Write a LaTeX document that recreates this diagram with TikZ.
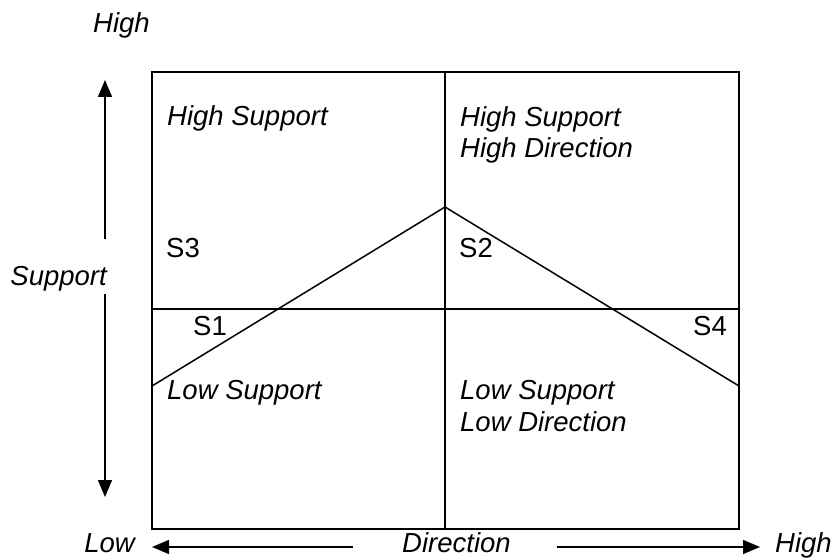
\documentclass[tikz,border=0pt]{standalone}
\usepackage{fontspec}
\setmainfont{Liberation Sans}
\usetikzlibrary{arrows.meta, positioning}

\begin{document}
\begin{tikzpicture}[x=1pt, y=-1pt, >={Triangle[length=17pt, width=14pt]},
    lbl/.style={font=\itshape\fontsize{27.5}{32}\selectfont, inner sep=0pt, align=left},
    tag/.style={font=\fontsize{27.5}{32}\selectfont, inner sep=0pt}]
    \useasboundingbox (0,0) rectangle (833,559);
    % the grid
    \coordinate (nw) at (152,72);
    \coordinate (se) at (739,529);
    \coordinate (top) at (445,72);
    \coordinate (bot) at (445,529);
    \coordinate (west) at (152,309);
    \coordinate (east) at (739,309);
    \coordinate (peak) at (445,207);
    \coordinate (lend) at (152,386);
    \coordinate (rend) at (739,386);
    \draw[line width=2pt] (nw) rectangle (se);
    \draw[line width=1.8pt] (top) -- (bot);
    \draw[line width=1.8pt] (west) -- (east);
    \draw[line width=1.5pt] (lend) -- (peak) -- (rend);
    % quadrant texts
    \node[lbl, anchor=base west] (hs) at (167,126) {High Support};
    \node[lbl, anchor=base west] (hshd) at (460,158) {High Support\\High Direction};
    \node[lbl, anchor=base west] (ls) at (167,399) {Low Support};
    \node[lbl, anchor=base west] (lsld) at (460,431) {Low Support\\Low Direction};
    \node[tag, anchor=base west] (s3) at (166,257) {S3};
    \node[tag, anchor=base west] (s2) at (459,257) {S2};
    \node[tag, anchor=base west] (s1) at (193,335) {S1};
    \node[tag, anchor=base west] (s4) at (693,335) {S4};
    % support axis
    \node[lbl, anchor=base west] (yhigh) at (93,33) {High};
    \node[lbl, anchor=base east] (support) at (107,285) {Support};
    \coordinate (up from) at (105,239);
    \coordinate (up to) at (105,80);
    \coordinate (down from) at (105,294);
    \coordinate (down to) at (105,497);
    \draw[->, line width=1.4pt] (up from) -- (up to);
    \draw[->, line width=1.4pt] (down from) -- (down to);
    % direction axis
    \node[lbl, anchor=base east] (xlow) at (135,552) {Low};
    \node[lbl, anchor=base west] (direction) at (402,552) {Direction};
    \node[lbl, anchor=base west] (xhigh) at (775,552) {High};
    \coordinate (left from) at (353,547);
    \coordinate (left to) at (152,547);
    \coordinate (right from) at (557,547);
    \coordinate (right to) at (760,547);
    \draw[->, line width=1.4pt] (left from) -- (left to);
    \draw[->, line width=1.4pt] (right from) -- (right to);
\end{tikzpicture}
\end{document}
